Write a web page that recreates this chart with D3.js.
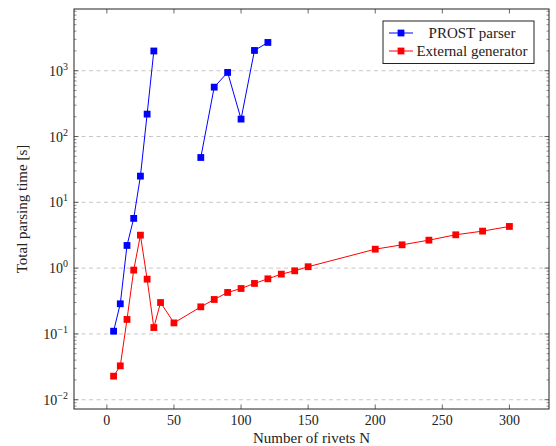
<!DOCTYPE html>
<html>
<head>
<meta charset="utf-8">
<script src="https://cdn.jsdelivr.net/npm/d3@7"></script>
<style>
  body { margin: 0; background: #fff; }
  text { font-family: "Liberation Serif", "Times New Roman", serif; fill: #222; }
</style>
</head>
<body>
<script>
// PROST parser
var prostN = [5, 10, 15, 20, 25, 30, 35, null, 70, 80, 90, 100, 110, 120];
var prostT = [0.11, 0.287, 2.21, 5.7, 25, 219, 1995, null, 48, 563, 942, 184, 2033, 2690];

// External generator
var extN = [5, 10, 15, 20, 25, 30, 35, 40, 50, 70, 80, 90, 100, 110, 120, 130, 140, 150, 200, 220, 240, 260, 280, 300];
var extT = [0.0228, 0.0327, 0.166, 0.933, 3.17, 0.68, 0.125, 0.30, 0.147, 0.258, 0.334, 0.427, 0.49, 0.585, 0.688, 0.81, 0.91, 1.05, 1.94, 2.26, 2.66, 3.21, 3.65, 4.30];

var xTicks = [0, 50, 100, 150, 200, 250, 300];
var yExps = [-2, -1, 0, 1, 2, 3];

var seriesNames = ["PROST parser", "External generator"];
var seriesColors = ["#0000ff", "#ff0000"];

var width = 556, height = 446;
var margin = {top: 9, right: 7, bottom: 37, left: 74};
var w = width - margin.left - margin.right;
var h = height - margin.top - margin.bottom;

var svg = d3.select("body").append("svg")
    .attr("width", width)
    .attr("height", height);

var x = d3.scaleLinear().domain([-24.5, 329.5]).range([0, w]);
var y = d3.scaleLog().domain([Math.pow(10, -2.141), Math.pow(10, 3.938)]).range([h, 0]);

var g = svg.append("g")
    .attr("transform", "translate(" + margin.left + "," + margin.top + ")");

// grid
g.selectAll(".grid")
    .data(yExps)
    .enter().append("line")
    .attr("x1", 0).attr("x2", w)
    .attr("y1", function(d) { return y(Math.pow(10, d)); })
    .attr("y2", function(d) { return y(Math.pow(10, d)); })
    .attr("stroke", "#b8b8b8")
    .attr("stroke-width", 0.8)
    .attr("stroke-dasharray", "4,3.5");

// minor log ticks, left and right
var minors = [];
for (var e = -3; e <= 3; e++) {
  for (var k = 2; k <= 9; k++) {
    var v = k * Math.pow(10, e);
    if (v > y.domain()[0] && v < y.domain()[1]) minors.push(v);
  }
}
[0, w].forEach(function(side) {
  var dir = side === 0 ? 1 : -1;
  g.selectAll(null).data(minors).enter().append("line")
      .attr("x1", side).attr("x2", side + dir * 2.5)
      .attr("y1", function(d) { return y(d); })
      .attr("y2", function(d) { return y(d); })
      .attr("stroke", "#444").attr("stroke-width", 0.6);
  g.selectAll(null).data(yExps).enter().append("line")
      .attr("x1", side).attr("x2", side + dir * 4.5)
      .attr("y1", function(d) { return y(Math.pow(10, d)); })
      .attr("y2", function(d) { return y(Math.pow(10, d)); })
      .attr("stroke", "#444").attr("stroke-width", 0.8);
});

// x ticks bottom and top
[h, 0].forEach(function(side) {
  var dir = side === 0 ? 1 : -1;
  g.selectAll(null).data(xTicks).enter().append("line")
      .attr("x1", function(d) { return x(d); })
      .attr("x2", function(d) { return x(d); })
      .attr("y1", side).attr("y2", side + dir * 4.5)
      .attr("stroke", "#444").attr("stroke-width", 0.8);
});

// frame
g.append("rect")
    .attr("width", w).attr("height", h)
    .attr("fill", "none")
    .attr("stroke", "#222")
    .attr("stroke-width", 1);

// tick labels
g.selectAll(".xl").data(xTicks).enter().append("text")
    .attr("x", function(d) { return x(d); })
    .attr("y", h + 15.5)
    .attr("text-anchor", "middle")
    .attr("font-size", 14)
    .text(function(d) { return d; });

var yl = g.selectAll(".yl").data(yExps).enter().append("text")
    .attr("x", -6)
    .attr("y", function(d) { return y(Math.pow(10, d)) + 5; })
    .attr("text-anchor", "end")
    .attr("font-size", 14);
yl.append("tspan").text("10");
yl.append("tspan")
    .attr("dy", -6)
    .attr("font-size", 10)
    .text(function(d) { return d < 0 ? "\u2212" + (-d) : d; });

// axis titles
svg.append("text")
    .attr("x", margin.left + w / 2)
    .attr("y", height - 3.5)
    .attr("text-anchor", "middle")
    .attr("font-size", 15)
    .text("Number of rivets N");

svg.append("text")
    .attr("transform", "translate(26.5," + (margin.top + h / 2) + ") rotate(-90)")
    .attr("text-anchor", "middle")
    .attr("font-size", 15)
    .text("Total parsing time [s]");

// series
var series = [
  prostN.map(function(n, i) { return {n: n, t: prostT[i]}; }),
  extN.map(function(n, i) { return {n: n, t: extT[i]}; })
];

var line = d3.line()
    .defined(function(d) { return d.n !== null; })
    .x(function(d) { return x(d.n); })
    .y(function(d) { return y(d.t); });

series.forEach(function(s, i) {
  g.append("path")
      .datum(s)
      .attr("d", line)
      .attr("fill", "none")
      .attr("stroke", seriesColors[i])
      .attr("stroke-width", 1);
  g.selectAll(null)
      .data(s.filter(function(d) { return d.n !== null; }))
      .enter().append("rect")
      .attr("x", function(d) { return x(d.n) - 3.4; })
      .attr("y", function(d) { return y(d.t) - 3.4; })
      .attr("width", 6.8).attr("height", 6.8)
      .attr("fill", seriesColors[i]);
});

// legend
var lg = svg.append("g").attr("transform", "translate(383,21)");
lg.append("rect")
    .attr("width", 151).attr("height", 42.5)
    .attr("fill", "#fff")
    .attr("stroke", "#222")
    .attr("stroke-width", 1);
seriesNames.forEach(function(name, i) {
  var ry = 12 + i * 18;
  lg.append("line")
      .attr("x1", 6).attr("x2", 30)
      .attr("y1", ry).attr("y2", ry)
      .attr("stroke", seriesColors[i]).attr("stroke-width", 1);
  lg.append("rect")
      .attr("x", 18 - 3.4).attr("y", ry - 3.4)
      .attr("width", 6.8).attr("height", 6.8)
      .attr("fill", seriesColors[i]);
  lg.append("text")
      .attr("x", 89)
      .attr("y", ry + 5)
      .attr("text-anchor", "middle")
      .attr("font-size", 15)
      .text(name);
});
</script>
</body>
</html>
